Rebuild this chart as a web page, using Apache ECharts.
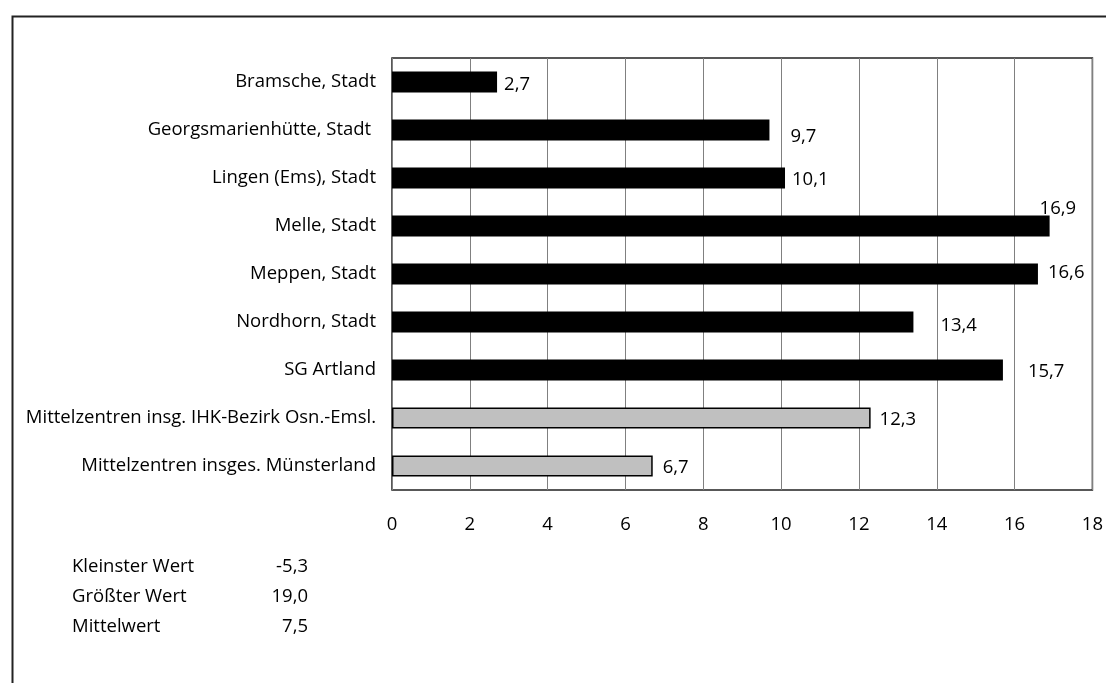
<!DOCTYPE html>
<html>
<head>
<meta charset="utf-8">
<script src="https://cdn.jsdelivr.net/npm/echarts@6/dist/echarts.min.js"></script>
<style>
  html, body { margin: 0; padding: 0; background: #fff; }
  #chart { width: 1106px; height: 683px; }
</style>
</head>
<body>
<div id="chart"></div>
<script>
// ---- data ----
const categories = [
  'Bramsche, Stadt',
  'Georgsmarienhütte, Stadt ',
  'Lingen (Ems), Stadt',
  'Melle, Stadt',
  'Meppen, Stadt',
  'Nordhorn, Stadt',
  'SG Artland',
  'Mittelzentren insg. IHK-Bezirk Osn.-Emsl.',
  'Mittelzentren insges. Münsterland'
];
const values = [2.7, 9.7, 10.1, 16.9, 16.6, 13.4, 15.7, 12.3, 6.7];
const isAggregate = [false, false, false, false, false, false, false, true, true];
const xTicks = { min: 0, max: 18, interval: 2 };
const statLabels = ['Kleinster Wert', 'Größter Wert', 'Mittelwert'];
const statValues = ['-5,3', '19,0', '7,5'];

// ---- style (label placement as in the reference) ----
const labelOffsets = [[7, 3], [21, 7], [7, 2], [-10, -17], [10, -1], [27, 4], [25, 2], [9, 2], [10, 2]];
const FONT = 'Open Sans';
const FS = 18.5;

const fmt = v => v.toFixed(1).replace('.', ',');

const seriesData = values.map((v, i) => ({
  value: v,
  itemStyle: isAggregate[i]
    ? { color: '#c0c0c0', borderColor: '#000', borderWidth: 1.5 }
    : { color: '#000' },
  label: { offset: labelOffsets[i] }
}));

const statGraphics = [];
statLabels.forEach((t, i) => {
  statGraphics.push({
    type: 'text', x: 72, y: 567 + i * 30,
    style: { text: t, font: FS + 'px "' + FONT + '"', fill: '#000', align: 'left', verticalAlign: 'middle' }
  });
  statGraphics.push({
    type: 'text', x: 308, y: 567 + i * 30,
    style: { text: statValues[i], font: FS + 'px "' + FONT + '"', fill: '#000', align: 'right', verticalAlign: 'middle' }
  });
});

const chart = echarts.init(document.getElementById('chart'), null, { renderer: 'canvas' });
chart.setOption({
  animation: false,
  backgroundColor: '#fff',
  textStyle: { fontFamily: FONT },
  grid: {
    left: 392, top: 58, width: 704, height: 432,
    show: true, borderColor: '#222', borderWidth: 1.5, backgroundColor: 'transparent'
  },
  xAxis: {
    type: 'value', min: xTicks.min, max: xTicks.max, interval: xTicks.interval,
    axisLine: { show: false }, axisTick: { show: false },
    splitLine: { show: true, lineStyle: { color: '#808080', width: 1 } },
    axisLabel: { color: '#000', fontSize: FS, fontFamily: FONT, margin: 25 }
  },
  yAxis: {
    type: 'category', data: categories, inverse: true,
    axisLine: { show: false }, axisTick: { show: false },
    splitLine: { show: false },
    axisLabel: { color: '#000', fontSize: FS, fontFamily: FONT, margin: 16 }
  },
  series: [{
    type: 'bar', data: seriesData, barWidth: 21,
    label: {
      show: true, position: 'right', distance: 0,
      color: '#000', fontSize: FS, fontFamily: FONT,
      formatter: p => fmt(p.value)
    }
  }],
  graphic: [
    {
      type: 'rect', left: 10, top: 14,
      shape: { x: 0, y: 0, width: 1200, height: 800 },
      style: { fill: 'none', stroke: '#222', lineWidth: 2 }, silent: true
    }
  ].concat(statGraphics)
});
</script>
</body>
</html>
